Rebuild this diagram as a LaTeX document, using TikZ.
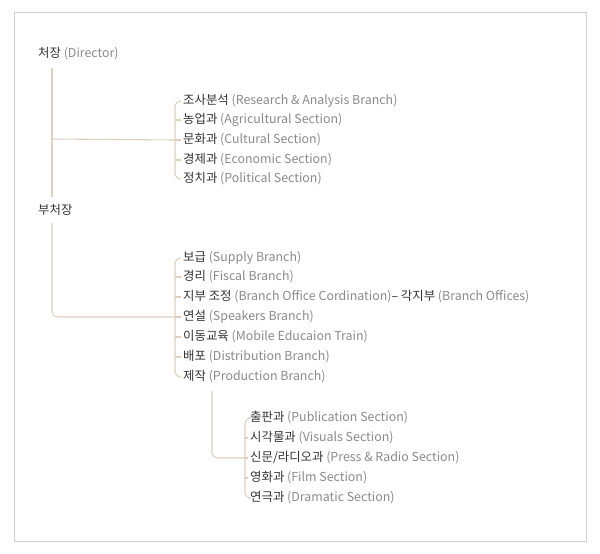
\documentclass[tikz,border=0pt]{standalone}
\usepackage{fontspec}
\setmainfont{Noto Sans CJK KR}
\definecolor{linebeige}{HTML}{DDD0C0}
\definecolor{kotext}{HTML}{333333}
\definecolor{entext}{HTML}{8A8A8A}
\definecolor{framegray}{HTML}{CFCFCF}
\tikzset{
    x=1pt, y=-1pt,
    every node/.style={ % text entries of the chart
        anchor=west,
        inner sep=0pt,
        font=\fontsize{12.4}{14}\selectfont,
        text=kotext
    },
    link/.style={ % connector lines
        draw=linebeige,
        line width=1.1pt,
        rounded corners=6pt
    }
}
\newcommand{\en}[1]{\textcolor{entext}{#1}}

\begin{document}
\begin{tikzpicture}
    \useasboundingbox (0,0) rectangle (600,554);
    \draw[framegray, line width=0.8pt] (14,12) rectangle (586,541);

    \node (dir) at (38,54) {처장 \en{(Director)}};
    \node (dep) at (38,210) {부처장};

    % research branch group
    \node (a1) at (183,101) {조사분석 \en{(Research \& Analysis Branch)}};
    \node (a2) at (183,120) {농업과 \en{(Agricultural Section)}};
    \node (a3) at (183,140) {문화과 \en{(Cultural Section)}};
    \node (a4) at (183,160) {경제과 \en{(Economic Section)}};
    \node (a5) at (183,179) {정치과 \en{(Political Section)}};

    % deputy group
    \node (b1) at (183,258) {보급 \en{(Supply Branch)}};
    \node (b2) at (183,277) {경리 \en{(Fiscal Branch)}};
    \node (b3) at (183,297) {지부 조정 \en{(Branch Office Cordination)}– 각지부 \en{(Branch Offices)}};
    \node (b4) at (183,317) {연설 \en{(Speakers Branch)}};
    \node (b5) at (183,337) {이동교육 \en{(Mobile Educaion Train)}};
    \node (b6) at (183,357) {배포 \en{(Distribution Branch)}};
    \node (b7) at (183,377) {제작 \en{(Production Branch)}};

    % production group
    \node (c1) at (250,418) {출판과 \en{(Publication Section)}};
    \node (c2) at (250,438) {시각물과 \en{(Visuals Section)}};
    \node (c3) at (250,458) {신문/라디오과 \en{(Press \& Radio Section)}};
    \node (c4) at (250,478) {영화과 \en{(Film Section)}};
    \node (c5) at (250,498) {연극과 \en{(Dramatic Section)}};

    % trunk lines
    \draw[link] ([shift={(14,7)}]dir.south west) -- ([shift={(14,-7)}]dep.north west);
    \draw[link] (52,139) -- (a3.west -| 175,0);
    \draw[link] ([shift={(14,7)}]dep.south west) |- ([xshift=-8]b4.west);
    \draw[link] ([shift={(29,7)}]b7.south west) |- ([xshift=-5]c3.west);

    % brackets
    \draw[link] ([xshift=-2]a1.west) -| (175,179) -- ([xshift=-2]a5.west);
    \foreach \n in {a2,a3,a4} \draw[link] (\n.west -| 175,0) -- ([xshift=-2]\n.west);
    \draw[link] ([xshift=-2]b1.west) -| (175,377) -- ([xshift=-2]b7.west);
    \foreach \n in {b2,b3,b4,b5,b6} \draw[link] (\n.west -| 175,0) -- ([xshift=-2]\n.west);
    \draw[link] ([xshift=-2]c1.west) -| (245,498) -- ([xshift=-2]c5.west);
    \foreach \n in {c2,c3,c4} \draw[link] (\n.west -| 245,0) -- ([xshift=-2]\n.west);
\end{tikzpicture}
\end{document}
